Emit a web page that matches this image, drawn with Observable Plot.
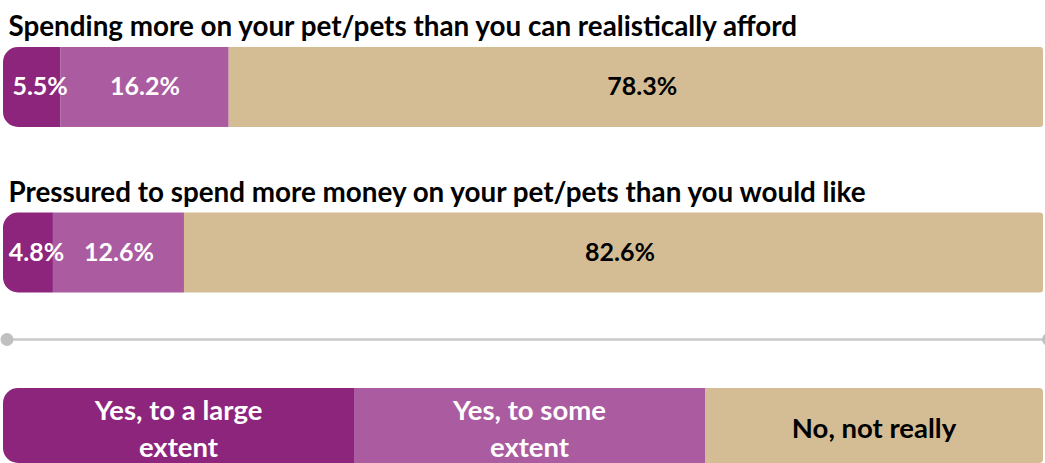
<!DOCTYPE html>
<html>
<head>
<meta charset="utf-8">
<script src="https://cdn.jsdelivr.net/npm/d3@7"></script>
<script src="https://cdn.jsdelivr.net/npm/@observablehq/plot@0.6"></script>
<style>
  html, body { margin: 0; padding: 0; background: #fff; }
  body { width: 1045px; height: 463px; overflow: hidden; position: relative; font-family: Lato, "Open Sans", sans-serif; }
  svg { display: block; }
  #sep { position: absolute; left: 0; top: 325px; }
  #legend { position: absolute; left: 3px; top: 388px; width: 1040px; height: 75px; display: flex; }
  #legend div { flex: none; display: flex; align-items: center; justify-content: center; text-align: center;
    font-weight: bold; font-size: 27.5px; line-height: 37px; padding-top: 4px; box-sizing: border-box; }
</style>
</head>
<body>
<div id="bars"></div>
<div id="sep"></div>
<div id="legend"></div>
<script>
// ---- data ----
const questions = [
  "Spending more on your pet/pets than you can realistically afford",
  "Pressured to spend more money on your pet/pets than you would like"
];
const responses = ["Yes, to a large extent", "Yes, to some extent", "No, not really"];
const legendLines = [["Yes, to a large", "extent"], ["Yes, to some", "extent"], ["No, not really"]];
const largeExtent = [5.5, 4.8];
const someExtent = [16.2, 12.6];
const notReally = [78.3, 82.6];
const colors = ["#8E257C", "#AB5BA0", "#D4BD94"];
const textColors = ["#ffffff", "#ffffff", "#000000"];
const separatorEnds = [0, 1];

// build stacked rows
const series = [largeExtent, someExtent, notReally];
const rows = [];
questions.forEach((q, i) => {
  let acc = 0;
  series.forEach((s, k) => {
    rows.push({question: q, response: responses[k], k, value: s[i], x1: acc, x2: acc + s[i], mid: acc + s[i] / 2});
    acc += s[i];
  });
});

const font = "Lato, 'Open Sans', sans-serif";

const bars = Plot.plot({
  width: 1045,
  height: 325,
  margin: 0,
  style: {fontFamily: font, background: "transparent"},
  x: {domain: [0, 100], range: [3, 1043], axis: null},
  y: {type: "band", domain: questions, range: [47, 292.5], paddingInner: 0.517, paddingOuter: 0, round: false, axis: null},
  color: {domain: responses, range: colors},
  marks: [
    Plot.barX(rows.filter(d => d.k === 0), {x1: "x1", x2: "x2", y: "question", fill: "response", rx1: 15}),
    Plot.barX(rows.filter(d => d.k === 1), {x1: "x1", x2: "x2", y: "question", fill: "response"}),
    Plot.barX(rows.filter(d => d.k === 2), {x1: "x1", x2: "x2", y: "question", fill: "response", rx2: 3}),
    Plot.text(rows.filter(d => d.k === 0), {x: "mid", y: "question", text: d => d.value.toFixed(1) + "%", fill: textColors[0], fontSize: 25, fontWeight: "bold", dx: 8}),
    Plot.text(rows.filter(d => d.k === 1), {x: "mid", y: "question", text: d => d.value.toFixed(1) + "%", fill: textColors[1], fontSize: 25, fontWeight: "bold"}),
    Plot.text(rows.filter(d => d.k === 2), {x: "mid", y: "question", text: d => d.value.toFixed(1) + "%", fill: textColors[2], fontSize: 25, fontWeight: "bold", dx: 6}),
    Plot.text(questions, {y: d => d, text: d => d, frameAnchor: "left", textAnchor: "start", dx: 8, dy: -60, fontSize: 27.8, fontWeight: "bold", fill: "#000"})
  ]
});
document.getElementById("bars").appendChild(bars);

const sep = Plot.plot({
  width: 1045,
  height: 28,
  margin: 0,
  style: {background: "transparent"},
  x: {domain: [0, 1], range: [6.5, 1048], axis: null},
  y: {domain: [-1, 1], range: [28, 0], axis: null},
  marks: [
    Plot.line(separatorEnds, {x: d => d, y: 0, stroke: "#C9C9C9", strokeWidth: 2.5}),
    Plot.dot(separatorEnds, {x: d => d, y: 0, r: 6.5, fill: "#C0C0C0", stroke: "none"})
  ]
});
document.getElementById("sep").appendChild(sep);

const legend = document.getElementById("legend");
const boxWidths = [351, 351, 338];
responses.forEach((r, k) => {
  const box = document.createElement("div");
  box.style.background = colors[k];
  box.style.color = textColors[k];
  box.style.width = boxWidths[k] + "px";
  if (k === 0) box.style.borderRadius = "15px 0 0 15px";
  if (k === responses.length - 1) box.style.borderRadius = "0 4px 4px 0";
  box.innerHTML = legendLines[k].join("<br>");
  legend.appendChild(box);
});
</script>
</body>
</html>
